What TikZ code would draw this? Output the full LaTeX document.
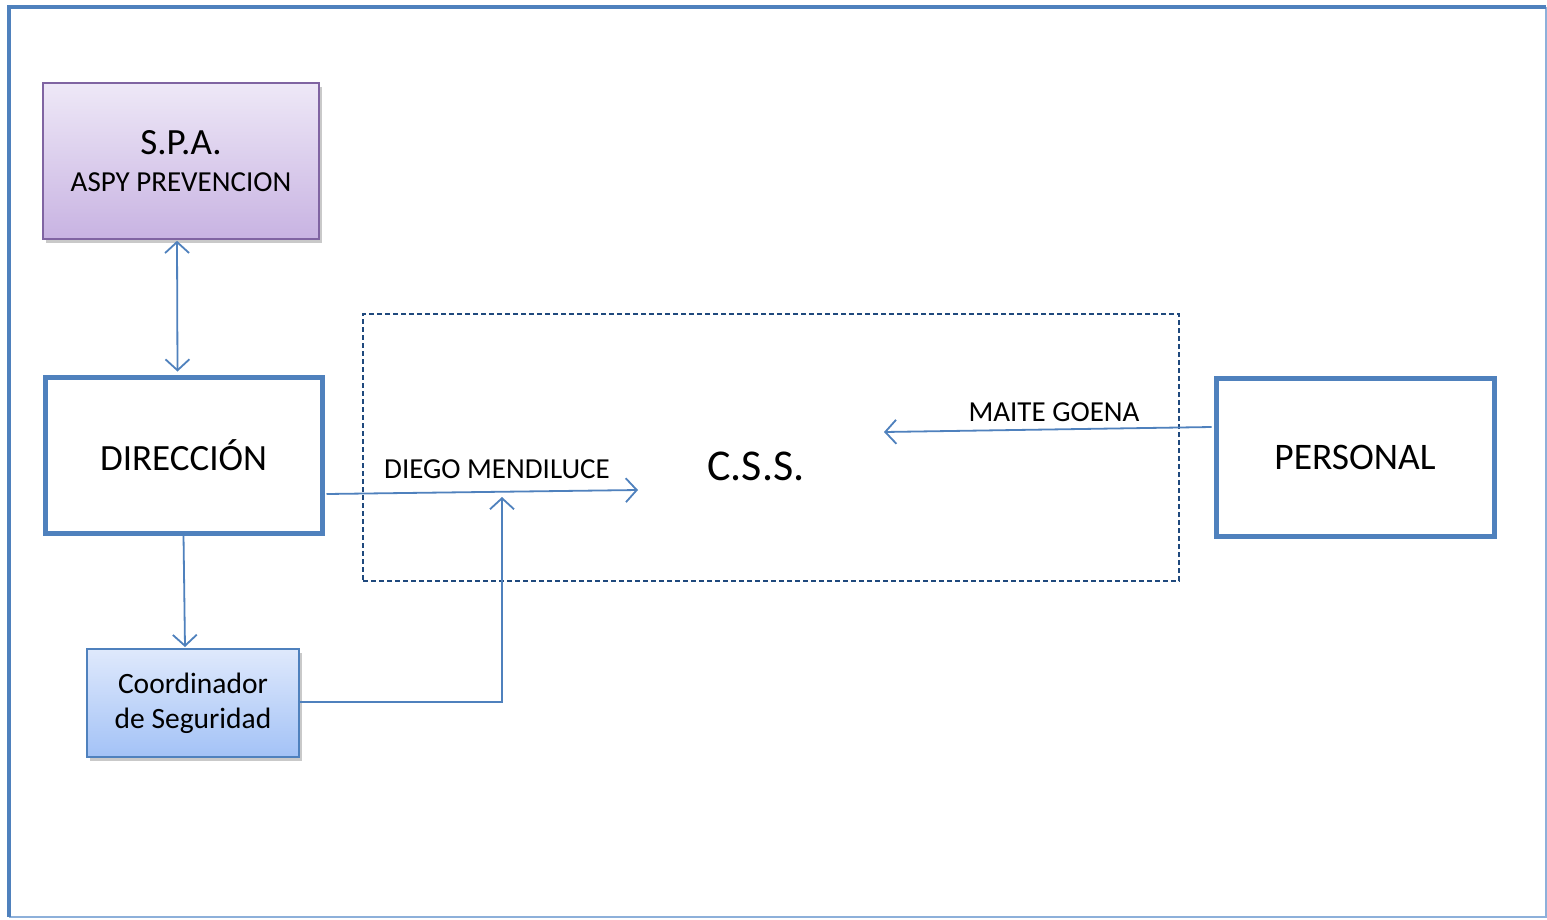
\documentclass[tikz,border=0pt]{standalone}
\usepackage{fontspec}
\setmainfont{Carlito}
\usetikzlibrary{arrows.meta,shadows,calc}
\definecolor{accent}{HTML}{4F81BD}
\definecolor{framelight}{HTML}{8DB0DA}
\definecolor{purpleborder}{HTML}{8064A2}
\definecolor{purpletop}{HTML}{EEE8F7}
\definecolor{purplebot}{HTML}{C8B3E2}
\definecolor{bluetop}{HTML}{DFE9FC}
\definecolor{bluebot}{HTML}{A3C2F6}
\definecolor{dashblue}{HTML}{1F497D}
\tikzset{
  barbtip/.tip={Straight Barb[length=11pt,width=24pt,line width=1.8pt]},
  conn/.style={draw=accent, line width=1.8pt, -barbtip},
  thickbox/.style={draw=accent, line width=5pt, fill=white, inner sep=0pt},
  shadowed/.style={drop shadow={shadow xshift=3pt, shadow yshift=-4pt, opacity=0.35, fill=black!60}},
  lbl/.style={font=\fontsize{29}{35}\selectfont, inner sep=0pt},
}
\begin{document}
\begin{tikzpicture}[x=1pt,y=-1pt]
\useasboundingbox (0,0) rectangle (1547,919);
\fill[white] (0,0) rectangle (1547,919);
% outer frame
\draw[framelight, line width=1.5pt] (1546,7) -- (1546,917) -- (9,917);
\draw[accent, line width=4.5pt] (9,917) -- (9,7) -- (1546,7);

% SPA box
\node[draw=purpleborder, line width=1.6pt, top color=purpletop, bottom color=purplebot,
  minimum width=276pt, minimum height=156pt, inner sep=0pt, shadowed,
  align=center, font=\fontsize{29}{39}\selectfont] (spa) at (181,161)
  {{\fontsize{37}{39}\selectfont S.P.A.}\\[-2pt] ASPY PREVENCION};

% DIRECCION
\node[thickbox, minimum width=277pt, minimum height=156pt,
  font=\fontsize{37}{40}\selectfont] (dir) at (183.5,455) {DIRECCIÓN};

% Coordinador
\node[draw=accent, line width=2pt, top color=bluetop, bottom color=bluebot,
  minimum width=212pt, minimum height=108pt, inner sep=0pt, shadowed,
  align=center, font=\fontsize{29.5}{35}\selectfont] (coord) at (193,703)
  {Coordinador\\de Seguridad};

% PERSONAL
\node[thickbox, minimum width=278pt, minimum height=158pt,
  font=\fontsize{37.5}{40}\selectfont] (pers) at (1355,457) {PERSONAL};

% dashed CSS box
\node[draw=dashblue, line width=1.5pt, dash pattern=on 5pt off 3pt,
  minimum width=816pt, minimum height=267pt, inner sep=0pt] (css) at (771,447.5) {};
\node[font=\fontsize{44}{48}\selectfont, inner sep=0pt] (csst) at (756,466) {C.S.S.};

% labels
\node[lbl] (diego) at (497,469) {DIEGO MENDILUCE};
\node[lbl] (maite) at (1054,412) {MAITE GOENA};

% free ends
\coordinate (dirend) at (638,490);
\coordinate (coordend) at (502,497);
\coordinate (persend) at (884,432);
\coordinate (coordcorner) at (502,702);

% connectors
\draw[conn, barbtip-barbtip]
  ($(spa.south)+(-4,1)$) -- ($(dir.north)+(-6,-3)$);
\draw[conn] ($(dir.south)+(0,-1)$) -- ($(coord.north)+(-8,-1)$);
\draw[conn] ($(dir.east)+(2,39)$) -- (dirend);
\draw[conn] (coord.east |- coordcorner) -- (coordcorner) -- (coordend);
\draw[conn] ($(pers.west)+(-2,-30)$) -- (persend);
\end{tikzpicture}
\end{document}
